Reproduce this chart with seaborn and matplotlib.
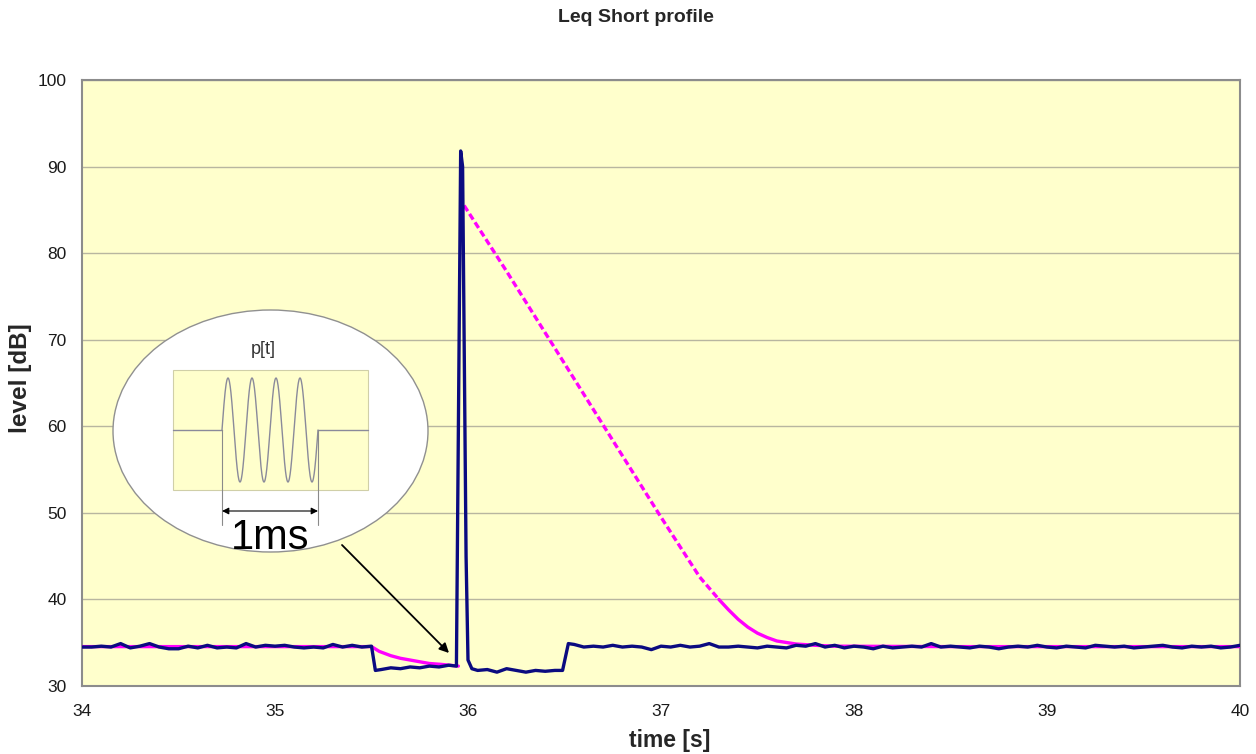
import numpy as np
import pandas as pd
import matplotlib
matplotlib.use("Agg")
import matplotlib.pyplot as plt
import seaborn as sns
from matplotlib.patches import Ellipse, Rectangle

# ---- data ----
blue_t = [34.00, 34.05, 34.10, 34.15, 34.20, 34.25, 34.30, 34.35, 34.40, 34.45,
          34.50, 34.55, 34.60, 34.65, 34.70, 34.75, 34.80, 34.85, 34.90, 34.95,
          35.00, 35.05, 35.10, 35.15, 35.20, 35.25, 35.30, 35.35, 35.40, 35.45,
          35.50, 35.52, 35.55, 35.60, 35.65, 35.70, 35.75, 35.80, 35.85, 35.90,
          35.94, 35.962, 35.972, 35.99, 36.00, 36.02, 36.05, 36.10, 36.15, 36.20,
          36.25, 36.30, 36.35, 36.40, 36.45, 36.49, 36.52, 36.55, 36.60, 36.65,
          36.70, 36.75, 36.80, 36.85, 36.90, 36.95, 37.00, 37.05, 37.10, 37.15,
          37.20, 37.25, 37.30, 37.35, 37.40, 37.45, 37.50, 37.55, 37.60, 37.65,
          37.70, 37.75, 37.80, 37.85, 37.90, 37.95, 38.00, 38.05, 38.10, 38.15,
          38.20, 38.25, 38.30, 38.35, 38.40, 38.45, 38.50, 38.55, 38.60, 38.65,
          38.70, 38.75, 38.80, 38.85, 38.90, 38.95, 39.00, 39.05, 39.10, 39.15,
          39.20, 39.25, 39.30, 39.35, 39.40, 39.45, 39.50, 39.55, 39.60, 39.65,
          39.70, 39.75, 39.80, 39.85, 39.90, 39.95, 40.00]
blue_db = [34.5, 34.5, 34.6, 34.5, 34.9, 34.4, 34.6, 34.9, 34.5, 34.3,
           34.3, 34.6, 34.4, 34.7, 34.4, 34.5, 34.4, 34.9, 34.5, 34.7,
           34.6, 34.7, 34.5, 34.4, 34.5, 34.4, 34.8, 34.5, 34.7, 34.5,
           34.6, 31.8, 31.9, 32.1, 32.0, 32.2, 32.1, 32.3, 32.2, 32.4,
           32.3, 91.8, 90.0, 45.0, 33.0, 32.0, 31.8, 31.9, 31.6, 32.0,
           31.8, 31.6, 31.8, 31.7, 31.8, 31.8, 34.9, 34.8, 34.5, 34.6,
           34.5, 34.7, 34.5, 34.6, 34.5, 34.2, 34.6, 34.5, 34.7, 34.5,
           34.6, 34.9, 34.5, 34.5, 34.6, 34.5, 34.4, 34.6, 34.5, 34.4,
           34.7, 34.6, 34.9, 34.5, 34.7, 34.4, 34.6, 34.5, 34.3, 34.6,
           34.4, 34.5, 34.6, 34.5, 34.9, 34.5, 34.6, 34.5, 34.4, 34.6,
           34.5, 34.3, 34.5, 34.6, 34.5, 34.7, 34.5, 34.4, 34.6, 34.5,
           34.4, 34.7, 34.6, 34.5, 34.6, 34.4, 34.5, 34.6, 34.7, 34.5,
           34.4, 34.6, 34.5, 34.6, 34.4, 34.5, 34.7]

# reference (magenta) curve, in three pieces
ref1_t = [34.0, 35.0, 35.50, 35.54, 35.60, 35.65, 35.70, 35.75, 35.80, 35.86, 35.95]
ref1_db = [34.55, 34.55, 34.55, 34.0, 33.5, 33.2, 33.0, 32.8, 32.6, 32.5, 32.3]
ref2_t = [35.98, 36.2, 36.4, 36.6, 36.8, 37.0, 37.2, 37.3]
ref2_db = [85.5, 77.9, 70.8, 63.7, 56.6, 49.5, 42.6, 40.0]
ref3_t = [37.3, 37.35, 37.4, 37.45, 37.5, 37.55, 37.6, 37.7, 37.8, 37.9, 38.5, 39.0, 40.0]
ref3_db = [40.0, 38.8, 37.7, 36.8, 36.1, 35.6, 35.2, 34.85, 34.7, 34.6, 34.55, 34.55, 34.55]

x_ticks = [34, 35, 36, 37, 38, 39, 40]
y_ticks = [30, 40, 50, 60, 70, 80, 90, 100]

# ---- styling ----
sns.set_style("white")
plt.rcParams['font.family'] = ['Liberation Sans', 'DejaVu Sans']

W, H = 1256, 754
fig = plt.figure(figsize=(W / 100, H / 100), dpi=100)
L, R, T, B = 82, 1240, 80, 686
ax = fig.add_axes([L / W, 1 - B / H, (R - L) / W, (B - T) / H])
ax.set_facecolor('#FFFFCC')

magenta = '#FF00FF'
navy = '#0B0B80'

df1 = pd.DataFrame({'t': ref1_t, 'db': ref1_db})
df2 = pd.DataFrame({'t': ref2_t, 'db': ref2_db})
df3 = pd.DataFrame({'t': ref3_t, 'db': ref3_db})
dfb = pd.DataFrame({'t': blue_t, 'db': blue_db})

sns.lineplot(data=df1, x='t', y='db', ax=ax, color=magenta, lw=2.4,
             estimator=None, sort=False, zorder=3)
sns.lineplot(data=df2, x='t', y='db', ax=ax, color=magenta, lw=2.4,
             estimator=None, sort=False, zorder=3, linestyle=(0, (2.0, 1.0)))
sns.lineplot(data=df3, x='t', y='db', ax=ax, color=magenta, lw=2.4,
             estimator=None, sort=False, zorder=3)
sns.lineplot(data=dfb, x='t', y='db', ax=ax, color=navy, lw=2.4,
             estimator=None, sort=False, zorder=4)

ax.set_xlim(34, 40)
ax.set_ylim(30, 100)
ax.set_xticks(x_ticks)
ax.set_yticks(y_ticks)
ax.set_xticklabels([str(v) for v in x_ticks])
ax.set_yticklabels([str(v) for v in y_ticks])
ax.grid(axis='y', color='#B8B6A0', lw=1.0, zorder=1)
ax.set_axisbelow(True)
for s in ax.spines.values():
    s.set_color('#8C8C8C')
    s.set_linewidth(1.5)
ax.tick_params(axis='both', direction='out', length=5, width=1, color='#8C8C8C',
               labelsize=12.5, labelcolor='#1A1A1A', pad=6)
ax.tick_params(axis='x', pad=8)
ax.set_xlabel('time [s]', fontsize=16.5, fontweight='bold')
ax.set_ylabel('level [dB]', fontsize=17.5, fontweight='bold')
ax.xaxis.set_label_coords((670 - L) / (R - L), (B - 729) / (B - T))
ax.yaxis.set_label_coords((32 - L) / (R - L), (B - 378) / (B - T))
fig.text(636 / W, 1 - 18 / H, 'Leq Short profile', ha='center', va='center',
         fontsize=14, fontweight='bold')

# ---- overlay in pixel coordinates for the inset illustration ----
ov = fig.add_axes([0, 0, 1, 1], zorder=10)
ov.set_xlim(0, W)
ov.set_ylim(H, 0)
ov.axis('off')
ov.patch.set_alpha(0)

ov.add_patch(Ellipse((270.5, 431), 315, 242, facecolor='white',
                     edgecolor='#909090', lw=1.0, zorder=2))
ov.add_patch(Rectangle((173, 370), 195, 120, facecolor='#FFFFCC',
                       edgecolor='#D0CFA8', lw=0.8, zorder=3))
xs = np.linspace(222, 318, 400)
ys = 430 - 52 * np.sin(2 * np.pi * 4 * (xs - 222) / 96)
ov.plot([173, 222], [430, 430], color='#8A8A9A', lw=1.0, zorder=4)
ov.plot(xs, ys, color='#8A8A9A', lw=1.0, zorder=4)
ov.plot([318, 318, 368], [ys[-1], 430, 430], color='#8A8A9A', lw=1.0, zorder=4)
ov.plot([222, 222], [430, 525], color='#8A8A8A', lw=0.8, zorder=4)
ov.plot([318, 318], [430, 525], color='#8A8A8A', lw=0.8, zorder=4)
ov.annotate('', xy=(222, 511), xytext=(318, 511),
            arrowprops=dict(arrowstyle='<|-|>', color='black', lw=0.8,
                            mutation_scale=10, shrinkA=0, shrinkB=0), zorder=5)
ov.text(263, 350, 'p[t]', ha='center', va='center', fontsize=13,
        color='#333333', zorder=5)
ov.text(270, 538, '1ms', ha='center', va='center', fontsize=30,
        color='black', zorder=5)
ov.annotate('', xy=(449, 653), xytext=(342, 545),
            arrowprops=dict(arrowstyle='-|>', color='black', lw=1.3,
                            mutation_scale=14, shrinkA=0, shrinkB=0), zorder=5)

fig.savefig('out.png', dpi=100, facecolor='white')
